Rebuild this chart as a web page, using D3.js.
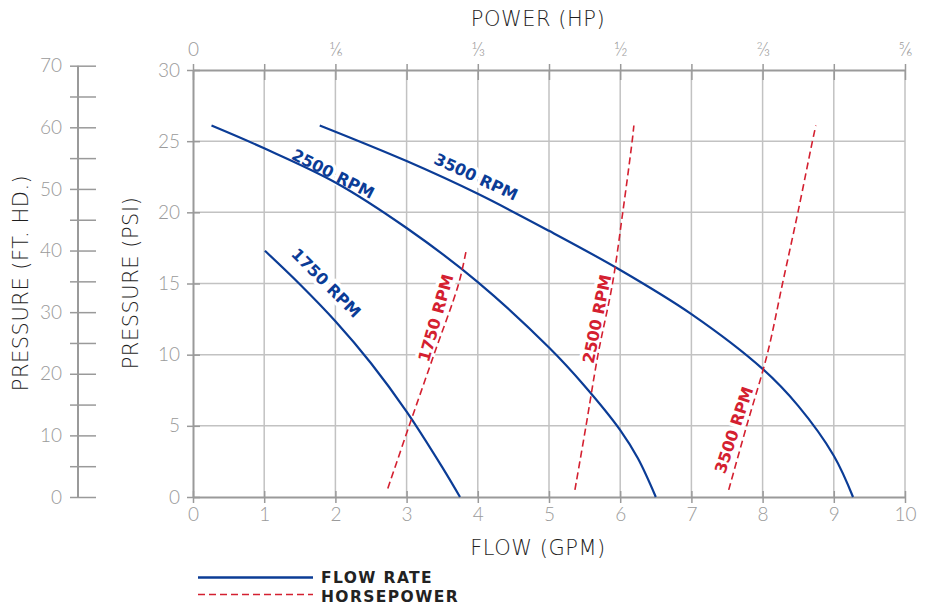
<!DOCTYPE html>
<html>
<head>
<meta charset="utf-8">
<script src="https://cdn.jsdelivr.net/npm/d3@7"></script>
<style>
    body { margin: 0; background: #fff; }
    text { font-family: Lato, "Noto Sans", sans-serif; }
</style>
</head>
<body>
<div id="pump_chart"></div>
<script>
// flow rate curves: [GPM, PSI]
var flow1750 = [[1.01, 17.3], [1.5, 14.95], [2, 12.35], [2.5, 9.4], [3, 6.0], [3.5, 2.1], [3.75, 0]];
var flow2500 = [[0.26, 26.1], [1, 24.5], [2, 22.1], [3, 18.9], [4, 15.1], [5, 10.5], [5.5, 7.8], [6, 4.7], [6.25, 2.7], [6.5, 0]];
var flow3500 = [[1.78, 26.1], [3, 23.6], [4, 21.3], [5, 18.7], [6, 15.95], [7, 12.85], [8, 9.0], [8.5, 6.4], [9, 2.9], [9.27, 0]];

// horsepower curves: [HP, PSI]
var hp1750 = [[0.228, 0.6], [0.253, 5], [0.282, 10], [0.311, 15], [0.320, 17.4]];
var hp2500 = [[0.447, 0.5], [0.46, 5], [0.474, 10], [0.491, 15], [0.503, 20], [0.514, 25], [0.516, 26.1]];
var hp3500 = [[0.627, 0.5], [0.648, 5], [0.672, 10], [0.69, 15], [0.708, 20], [0.725, 25], [0.729, 26.1]];

var flowTicks = [0, 1, 2, 3, 4, 5, 6, 7, 8, 9, 10];
var psiTicks = [0, 5, 10, 15, 20, 25, 30];
var ftTicks = [0, 5, 10, 15, 20, 25, 30, 35, 40, 45, 50, 55, 60, 65, 70];
var hpTicks = [0, 1/12, 2/12, 3/12, 4/12, 5/12, 6/12, 7/12, 8/12, 9/12, 10/12];
var hpLabels = ["0", "\u2159", "\u2153", "\u00BD", "\u2154", "\u215A"];

var width = 928;
var height = 605;
var LEFT = 193, RIGHT = 905, TOP = 70, BOTTOM = 497;
var BLUE = "#0b3c96";
var RED = "#d42030";
var GRAY = "#9a9a9a";
var GRID = "#c2c2c2";
var size_font = 19;
var WIDE = "'DejaVu Sans', sans-serif";

var svg = d3.select("#pump_chart")
    .append("svg")
    .attr("width", width)
    .attr("height", height);

// スケール
var xScale = d3.scaleLinear().domain([0, 10]).range([LEFT, RIGHT]);
var hpScale = d3.scaleLinear().domain([0, 5/6]).range([LEFT, RIGHT]);
var yScale = d3.scaleLinear().domain([0, 30]).range([BOTTOM, TOP]);
var ftScale = d3.scaleLinear().domain([0, 30 * 2.31]).range([BOTTOM, TOP]);

// grid
svg.append("g")
    .selectAll("line")
    .data(flowTicks.slice(1))
    .enter()
    .append("line")
    .attr("x1", function (d) { return xScale(d); })
    .attr("x2", function (d) { return xScale(d); })
    .attr("y1", TOP)
    .attr("y2", BOTTOM)
    .attr("stroke", GRID)
    .attr("stroke-width", 1.5);

svg.append("g")
    .selectAll("line")
    .data(psiTicks.slice(1, -1))
    .enter()
    .append("line")
    .attr("x1", LEFT)
    .attr("x2", RIGHT)
    .attr("y1", function (d) { return yScale(d); })
    .attr("y2", function (d) { return yScale(d); })
    .attr("stroke", GRID)
    .attr("stroke-width", 1.5);

function styleAxis(g) {
    g.select(".domain").attr("stroke", GRAY).attr("stroke-width", 2);
    g.selectAll(".tick line").attr("stroke", GRAY).attr("stroke-width", 1.5);
    g.selectAll(".tick text")
        .attr("fill", GRAY)
        .style("font-size", size_font + "px")
        .style("font-weight", 300)
        .style("font-family", "Lato, sans-serif");
}

// X 軸
var xAxis = d3.axisBottom(xScale)
    .tickValues(flowTicks)
    .tickSize(6)
    .tickPadding(5)
    .tickSizeOuter(0);
var gx = svg.append("g")
    .attr("transform", "translate(0," + BOTTOM + ")")
    .call(xAxis)
    .call(styleAxis);
gx.selectAll(".tick line").attr("y1", -6);

// top HP axis
var hpAxis = d3.axisTop(hpScale)
    .tickValues(hpTicks)
    .tickSize(6)
    .tickPadding(8)
    .tickSizeOuter(0)
    .tickFormat(function (d, i) { return i % 2 == 0 ? hpLabels[i / 2] : ""; });
var gt = svg.append("g")
    .attr("transform", "translate(0," + TOP + ")")
    .call(hpAxis)
    .call(styleAxis);
gt.selectAll(".tick line").attr("y1", 10);

// Y 軸 (PSI)
var yAxis = d3.axisLeft(yScale)
    .tickValues(psiTicks)
    .tickSize(6)
    .tickPadding(7)
    .tickSizeOuter(0);
var gy = svg.append("g")
    .attr("transform", "translate(" + LEFT + ",0)")
    .call(yAxis)
    .call(styleAxis);
gy.selectAll(".tick line").attr("x1", 7);

// Y 軸 (FT. HD.)
var ftAxis = d3.axisLeft(ftScale)
    .tickValues(ftTicks)
    .tickSize(8)
    .tickPadding(8)
    .tickSizeOuter(0)
    .tickFormat(function (d) { return d % 10 == 0 ? d : ""; });
var gf = svg.append("g")
    .attr("transform", "translate(78,0)")
    .call(ftAxis)
    .call(styleAxis);
gf.select(".domain").attr("d", "M0," + ftScale(70) + "V" + BOTTOM);
gf.selectAll(".tick line").attr("x1", 18);

// axis titles
function title(txt, x, y, rot) {
    svg.append("text")
        .text(txt)
        .attr("text-anchor", "middle")
        .attr("dominant-baseline", "central")
        .attr("transform", "translate(" + x + "," + y + ") rotate(" + rot + ")")
        .attr("fill", "#1e1e1e")
        .style("font-family", WIDE)
        .style("font-weight", 300)
        .style("letter-spacing", "0.5px")
        .style("font-size", "21px");
}
title("POWER (HP)", 538, 19, 0);
title("FLOW (GPM)", 538, 548, 0);
title("PRESSURE (FT. HD.)", 21, 283, -90);
title("PRESSURE (PSI)", 131, 283, -90);

// curve labels
var labels = [
    { text: "2500 RPM", x: 333, y: 174, rot: 27, color: BLUE },
    { text: "3500 RPM", x: 476, y: 177, rot: 25, color: BLUE },
    { text: "1750 RPM", x: 326, y: 283, rot: 45, color: BLUE },
    { text: "1750 RPM", x: 436, y: 318, rot: -74, color: RED },
    { text: "2500 RPM", x: 597, y: 319, rot: -78.5, color: RED },
    { text: "3500 RPM", x: 734, y: 430, rot: -71.5, color: RED }
];
svg.append("g")
    .selectAll("text")
    .data(labels)
    .enter()
    .append("text")
    .text(function (d) { return d.text; })
    .attr("text-anchor", "middle")
    .attr("dominant-baseline", "central")
    .attr("transform", function (d) { return "translate(" + d.x + "," + d.y + ") rotate(" + d.rot + ")"; })
    .attr("fill", function (d) { return d.color; })
    .attr("stroke", "#fff")
    .attr("stroke-width", 7)
    .attr("paint-order", "stroke")
    .style("font-family", WIDE)
    .style("font-size", "16px")
    .style("font-weight", "bold");

// curves
var flowLine = d3.line()
    .x(function (d) { return xScale(d[0]); })
    .y(function (d) { return yScale(d[1]); })
    .curve(d3.curveCatmullRom.alpha(0.5));
var hpLine = d3.line()
    .x(function (d) { return hpScale(d[0]); })
    .y(function (d) { return yScale(d[1]); })
    .curve(d3.curveCatmullRom.alpha(0.5));

svg.append("g")
    .selectAll("path")
    .data([flow1750, flow2500, flow3500])
    .enter()
    .append("path")
    .attr("d", flowLine)
    .attr("fill", "none")
    .attr("stroke", BLUE)
    .attr("stroke-width", 2.2);

svg.append("g")
    .selectAll("path")
    .data([hp1750, hp2500, hp3500])
    .enter()
    .append("path")
    .attr("d", hpLine)
    .attr("fill", "none")
    .attr("stroke", RED)
    .attr("stroke-width", 1.6)
    .attr("stroke-dasharray", "7,4");

// legend
var legend = svg.append("g");
legend.append("line")
    .attr("x1", 198).attr("x2", 313).attr("y1", 577.5).attr("y2", 577.5)
    .attr("stroke", BLUE).attr("stroke-width", 2.5);
legend.append("line")
    .attr("x1", 198).attr("x2", 313).attr("y1", 594.5).attr("y2", 594.5)
    .attr("stroke", RED).attr("stroke-width", 1.6)
    .attr("stroke-dasharray", "7,4");
legend.append("text")
    .text("FLOW RATE")
    .attr("x", 321).attr("y", 583)
    .attr("fill", "#222")
    .style("font-family", WIDE)
    .style("letter-spacing", "1.4px")
    .style("font-size", "15.5px").style("font-weight", "bold");
legend.append("text")
    .text("HORSEPOWER")
    .attr("x", 321).attr("y", 602)
    .attr("fill", "#222")
    .style("font-family", WIDE)
    .style("letter-spacing", "1.4px")
    .style("font-size", "15.5px").style("font-weight", "bold");
</script>
</body>
</html>
